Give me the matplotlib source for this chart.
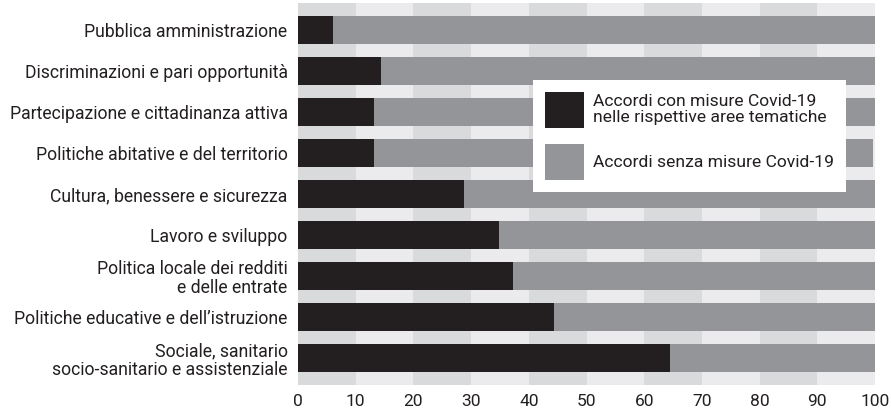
import matplotlib
matplotlib.use("Agg")
import matplotlib.pyplot as plt
from matplotlib.patches import Patch
import numpy as np

plt.rcParams['font.family'] = ['Roboto', 'DejaVu Sans']

categories = [
    "Pubblica amministrazione",
    "Discriminazioni e pari opportunità",
    "Partecipazione e cittadinanza attiva",
    "Politiche abitative e del territorio",
    "Cultura, benessere e sicurezza",
    "Lavoro e sviluppo",
    "Politica locale dei redditi\ne delle entrate",
    "Politiche educative e dell\u2019istruzione",
    "Sociale, sanitario\nsocio-sanitario e assistenziale",
]
con_covid = [6.0, 14.4, 13.2, 13.2, 28.8, 34.8, 37.2, 44.4, 64.5]
senza_covid = [94.0, 85.6, 86.8, 86.5, 71.2, 65.2, 62.8, 55.6, 35.5]
x_ticks = [0, 10, 20, 30, 40, 50, 60, 70, 80, 90, 100]
legend_labels = ["Accordi con misure Covid-19\nnelle rispettive aree tematiche",
                 "Accordi senza misure Covid-19"]

BLACK = "#231f20"
GRAY = "#939598"
BAND_DARK = "#d9dadc"
BAND_LIGHT = "#ebebed"

fig = plt.figure(figsize=(8.91, 4.11), dpi=100)
ax = fig.add_axes([298 / 891, 1 - 385 / 411, 577 / 891, 382 / 411])

# alternating vertical bands every 10 units
for i, x0 in enumerate(x_ticks[:-1]):
    ax.axvspan(x0, x0 + 10, color=BAND_DARK if i % 2 == 0 else BAND_LIGHT,
               lw=0, zorder=0)

y = np.arange(len(categories))
h = 0.68
ax.barh(y, con_covid, height=h, color=BLACK, lw=0, zorder=2)
ax.barh(y, senza_covid, left=con_covid, height=h, color=GRAY, lw=0, zorder=2)

ax.set_xlim(0, 100)
ax.set_ylim(8.66, -0.66)
ax.set_yticks(y)
ax.set_yticklabels(categories, fontsize=12.7, color=BLACK,
                   multialignment='right', linespacing=1.05)
ax.set_xticks(x_ticks)
ax.set_xticklabels([str(t) for t in x_ticks], fontsize=12.5, color=BLACK)
ax.tick_params(axis='both', length=0)
ax.tick_params(axis='y', pad=7.5)
ax.tick_params(axis='x', pad=6.5)
for s in ax.spines.values():
    s.set_visible(False)

handles = [Patch(facecolor=BLACK, edgecolor='none'),
           Patch(facecolor=GRAY, edgecolor='none')]
leg = ax.legend(handles, legend_labels, loc='upper left',
                bbox_to_anchor=(533 / 891, 1 - 80 / 411),
                bbox_transform=fig.transFigure,
                fontsize=12.6, frameon=True, fancybox=False, framealpha=1,
                edgecolor='none', facecolor='white',
                handlelength=2.23, handleheight=2.81, handletextpad=0.5,
                labelspacing=0.9, borderpad=0.69, borderaxespad=0)
for t in leg.get_texts():
    t.set_color(BLACK)
    t.set_linespacing(1.05)
leg.set_zorder(5)

fig.savefig("out.png", dpi=100)
